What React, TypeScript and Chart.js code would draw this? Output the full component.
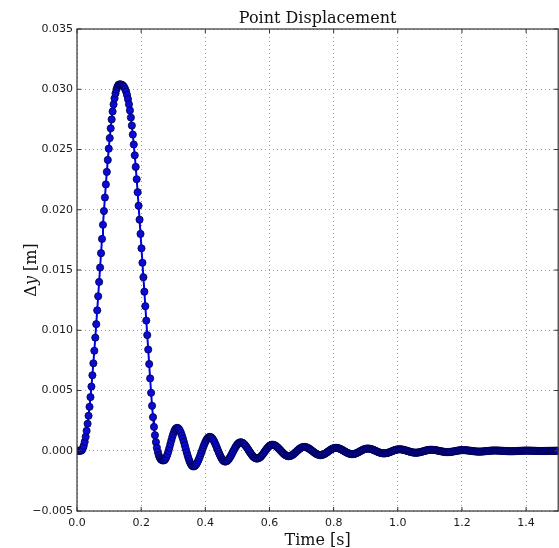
import React, { useEffect, useRef } from "react";
import { Chart, registerables } from "chart.js";

Chart.register(...registerables);

const TITLE = "Point Displacement";
const X_LABEL = "Time [s]";
const SAMPLE_STEP = 0.003; // s, spacing of the recorded samples
const X_TICKS = [0, 0.2, 0.4, 0.6, 0.8, 1.0, 1.2, 1.4];
const Y_TICKS = [-0.005, 0, 0.005, 0.01, 0.015, 0.02, 0.025, 0.03, 0.035];

// vertical displacement of the point [m], one value per sample
const DISPLACEMENT = [
  0, 0, 0, 0, 0, 0.000047, 0.000187, 0.00042, 0.000744, 0.001157,
  0.001657, 0.00224, 0.002903, 0.003642, 0.004452, 0.005328, 0.006266, 0.007258, 0.008299, 0.009383,
  0.010503, 0.011652, 0.012822, 0.014007, 0.0152, 0.016393, 0.017578, 0.018748, 0.019897, 0.021017,
  0.022101, 0.023142, 0.024134, 0.025072, 0.025948, 0.026758, 0.027497, 0.02816, 0.028743, 0.029243,
  0.029656, 0.02998, 0.030213, 0.030353, 0.0304, 0.030398, 0.030386, 0.030352, 0.030286, 0.030179,
  0.030021, 0.029805, 0.029524, 0.029173, 0.028745, 0.028239, 0.027652, 0.026985, 0.026238, 0.025415,
  0.024519, 0.023556, 0.022532, 0.021455, 0.020334, 0.019177, 0.017996, 0.0168, 0.0156, 0.0144,
  0.0132, 0.012, 0.0108, 0.0096, 0.0084, 0.0072, 0.006, 0.004808, 0.003729, 0.002787,
  0.001977, 0.001291, 0.00072, 0.000257, -0.000108, -0.000382, -0.000577, -0.000702, -0.000771, -0.000797,
  -0.0008, -0.000766, -0.000666, -0.000505, -0.000292, -0.000036, 0.00025, 0.00055, 0.00085, 0.001136,
  0.001392, 0.001606, 0.001766, 0.001866, 0.0019, 0.001873, 0.001792, 0.00166, 0.001482, 0.001264,
  0.001013, 0.000738, 0.000448, 0.000152, -0.000138, -0.000413, -0.000664, -0.000882, -0.00106, -0.001192,
  -0.001273, -0.0013, -0.001279, -0.001217, -0.001117, -0.00098, -0.000813, -0.000621, -0.00041, -0.000188,
  0.000038, 0.00026, 0.000471, 0.000663, 0.00083, 0.000967, 0.001067, 0.001129, 0.00115, 0.00113,
  0.001072, 0.000977, 0.00085, 0.000694, 0.000517, 0.000325, 0.000125, -0.000075, -0.000267, -0.000444,
  -0.0006, -0.000727, -0.000822, -0.00088, -0.0009, -0.000885, -0.000839, -0.000765, -0.000666, -0.000544,
  -0.000406, -0.000256, -0.0001, 0.000056, 0.000206, 0.000344, 0.000466, 0.000565, 0.000639, 0.000685,
  0.0007, 0.000689, 0.000654, 0.000599, 0.000524, 0.000432, 0.000326, 0.00021, 0.000087, -0.000037,
  -0.00016, -0.000276, -0.000382, -0.000474, -0.000549, -0.000604, -0.000639, -0.00065, -0.000639, -0.000606,
  -0.000553, -0.000482, -0.000394, -0.000295, -0.000187, -0.000075, 0.000037, 0.000145, 0.000244, 0.000332,
  0.000403, 0.000456, 0.000489, 0.0005, 0.000492, 0.000468, 0.000429, 0.000376, 0.000311, 0.000237,
  0.000155, 0.000069, -0.000019, -0.000105, -0.000187, -0.000261, -0.000326, -0.000379, -0.000418, -0.000442,
  -0.00045, -0.000443, -0.000421, -0.000385, -0.000337, -0.000279, -0.000212, -0.00014, -0.000065, 0.00001,
  0.000082, 0.000149, 0.000207, 0.000255, 0.000291, 0.000313, 0.00032, 0.000314, 0.000297, 0.000269,
  0.000231, 0.000185, 0.000132, 0.000073, 0.000011, -0.000051, -0.000113, -0.000172, -0.000225, -0.000271,
  -0.000309, -0.000337, -0.000354, -0.00036, -0.000354, -0.000337, -0.000309, -0.000272, -0.000227, -0.000175,
  -0.000119, -0.00006, -0.000002, 0.000055, 0.000107, 0.000152, 0.000189, 0.000217, 0.000234, 0.00024,
  0.000236, 0.000222, 0.000201, 0.000172, 0.000137, 0.000096, 0.000051, 0.000004, -0.000044, -0.000091,
  -0.000136, -0.000177, -0.000212, -0.000241, -0.000262, -0.000276, -0.00028, -0.000276, -0.000263, -0.000241,
  -0.000213, -0.000178, -0.000138, -0.000095, -0.00005, -0.000005, 0.000038, 0.000078, 0.000113, 0.000141,
  0.000163, 0.000176, 0.00018, 0.000177, 0.000167, 0.00015, 0.000128, 0.000101, 0.000069, 0.000035,
  -0.000002, -0.000038, -0.000075, -0.000109, -0.000141, -0.000168, -0.00019, -0.000206, -0.000217, -0.00022,
  -0.000217, -0.000207, -0.000191, -0.00017, -0.000144, -0.000115, -0.000083, -0.00005, -0.000017, 0.000015,
  0.000044, 0.00007, 0.000091, 0.000107, 0.000117, 0.00012, 0.000118, 0.000111, 0.000099, 0.000083,
  0.000064, 0.000042, 0.000018, -0.000007, -0.000033, -0.000058, -0.000082, -0.000104, -0.000124, -0.000139,
  -0.000151, -0.000158, -0.00016, -0.000158, -0.000151, -0.00014, -0.000125, -0.000107, -0.000086, -0.000063,
  -0.00004, -0.000017, 0.000006, 0.000027, 0.000045, 0.00006, 0.000071, 0.000078, 0.00008, 0.000078,
  0.000074, 0.000066, 0.000055, 0.000042, 0.000027, 0.000011, -0.000006, -0.000024, -0.000041, -0.000057,
  -0.000072, -0.000085, -0.000096, -0.000104, -0.000108, -0.00011, -0.000108, -0.000104, -0.000097, -0.000087,
  -0.000074, -0.000061, -0.000046, -0.00003, -0.000014, 0.000001, 0.000014, 0.000027, 0.000037, 0.000044,
  0.000048, 0.00005, 0.000049, 0.000046, 0.000041, 0.000034, 0.000026, 0.000017, 0.000006, -0.000004,
  -0.000016, -0.000026, -0.000037, -0.000046, -0.000054, -0.000061, -0.000066, -0.000069, -0.00007, -0.000069,
  -0.000067, -0.000062, -0.000057, -0.00005, -0.000042, -0.000034, -0.000025, -0.000016, -0.000008, 0,
  0.000007, 0.000012, 0.000017, 0.000019, 0.00002, 0.00002, 0.000018, 0.000016, 0.000012, 0.000008,
  0.000003, -0.000002, -0.000007, -0.000013, -0.000018, -0.000023, -0.000028, -0.000032, -0.000036, -0.000038,
  -0.00004, -0.00004, -0.00004, -0.000038, -0.000036, -0.000033, -0.000029, -0.000025, -0.00002, -0.000015,
  -0.00001, -0.000005, -0.000001, 0.000003, 0.000006, 0.000008, 0.00001, 0.00001, 0.00001, 0.000009,
  0.000008, 0.000006, 0.000004, 0.000002, -0.000001, -0.000004, -0.000006, -0.000009, -0.000012, -0.000014,
  -0.000016, -0.000018, -0.000019, -0.00002, -0.00002, -0.00002, -0.000019, -0.000018, -0.000017, -0.000016,
  -0.000014, -0.000012, -0.00001, -0.000008, -0.000006, -0.000004, -0.000003, -0.000002, -0.000001, 0,
  0,
];

const TICK_FONT = { family: '"DejaVu Sans", sans-serif', size: 11 };
const SERIF = '"DejaVu Serif", serif';

const formatY = (v: number) => {
  const s = Math.abs(v).toFixed(3);
  return v < -1e-12 ? "\u2212" + s : s;
};

const decorations = {
  id: "decorations",
  afterDatasetsDraw(chart: any) {
    const { ctx, chartArea } = chart;
    const { left, right, top, bottom } = chartArea;
    const xs = chart.scales.x;
    const ys = chart.scales.y;
    ctx.save();
    ctx.strokeStyle = "#333";
    ctx.lineWidth = 1.2;
    ctx.strokeRect(left, top, right - left, bottom - top);
    ctx.lineWidth = 1;
    ctx.beginPath();
    X_TICKS.forEach((v) => {
      const px = xs.getPixelForValue(v);
      ctx.moveTo(px, bottom);
      ctx.lineTo(px, bottom - 4);
      ctx.moveTo(px, top);
      ctx.lineTo(px, top + 4);
    });
    Y_TICKS.forEach((v) => {
      const py = ys.getPixelForValue(v);
      ctx.moveTo(left, py);
      ctx.lineTo(left + 4, py);
      ctx.moveTo(right, py);
      ctx.lineTo(right - 4, py);
    });
    ctx.stroke();
    ctx.restore();
  },
  afterDraw(chart: any) {
    const { ctx, chartArea } = chart;
    const cx = (chartArea.left + chartArea.right) / 2;
    const cy = (chartArea.top + chartArea.bottom) / 2;
    ctx.save();
    ctx.fillStyle = "#111";
    ctx.textBaseline = "alphabetic";
    ctx.textAlign = "center";
    ctx.font = `16px ${SERIF}`;
    ctx.fillText(TITLE, cx, chartArea.top - 6);
    ctx.fillText(X_LABEL, cx, 545);
    const parts = [
      { t: "\u0394", f: `16px ${SERIF}` },
      { t: "y", f: `italic 16px ${SERIF}` },
      { t: " [m]", f: `16px ${SERIF}` },
    ];
    let total = 0;
    const widths = parts.map((p) => {
      ctx.font = p.f;
      const w = ctx.measureText(p.t).width;
      total += w;
      return w;
    });
    ctx.translate(36, cy);
    ctx.rotate(-Math.PI / 2);
    ctx.textAlign = "left";
    let x = -total / 2;
    parts.forEach((p, i) => {
      ctx.font = p.f;
      ctx.fillText(p.t, x, 0);
      x += widths[i];
    });
    ctx.restore();
  },
};

export default function App() {
  const canvasRef = useRef<HTMLCanvasElement | null>(null);

  useEffect(() => {
    const canvas = canvasRef.current;
    if (!canvas) return;
    const points = DISPLACEMENT.map((v, i) => ({ x: i * SAMPLE_STEP, y: v }));
    const chart = new Chart(canvas, {
      type: "line",
      data: {
        datasets: [
          {
            data: points,
            borderColor: "#0000ee",
            borderWidth: 2,
            pointRadius: 3.6,
            pointBackgroundColor: "#0a0ad8",
            pointBorderColor: "#000040",
            pointBorderWidth: 0.8,
            tension: 0,
          },
        ],
      },
      options: {
        animation: false,
        responsive: false,
        maintainAspectRatio: false,
        layout: { padding: { top: 29, left: 0, right: 1, bottom: 0 } },
        plugins: {
          legend: { display: false },
          title: { display: false },
          tooltip: { enabled: false },
        },
        scales: {
          x: {
            type: "linear",
            min: 0,
            max: 1.5,
            afterFit: (s: any) => {
              s.height = 37;
            },
            afterBuildTicks: (s: any) => {
              s.ticks = X_TICKS.map((v) => ({ value: v }));
            },
            ticks: {
              callback: (v: any) => Number(v).toFixed(1),
              font: TICK_FONT,
              color: "#1a1a1a",
              padding: 6,
              maxRotation: 0,
              autoSkip: false,
            },
            grid: { color: "#9a9a9a", lineWidth: 1, drawTicks: false },
            border: { display: false, dash: [1, 3] },
          },
          y: {
            type: "linear",
            min: -0.005,
            max: 0.035,
            afterFit: (s: any) => {
              s.width = 77;
            },
            afterBuildTicks: (s: any) => {
              s.ticks = Y_TICKS.map((v) => ({ value: v }));
            },
            ticks: {
              callback: (v: any) => formatY(Number(v)),
              font: TICK_FONT,
              color: "#1a1a1a",
              padding: 4,
              autoSkip: false,
            },
            grid: { color: "#9a9a9a", lineWidth: 1, drawTicks: false },
            border: { display: false, dash: [1, 3] },
          },
        },
      },
      plugins: [decorations],
    });
    return () => chart.destroy();
  }, []);

  return (
    <div
      style={{
        position: "fixed",
        left: 0,
        top: 0,
        width: 559,
        height: 548,
        overflow: "hidden",
        background: "#fff",
      }}
    >
      <canvas ref={canvasRef} width={563} height={548} style={{ display: "block", width: 563, height: 548 }} />
    </div>
  );
}
